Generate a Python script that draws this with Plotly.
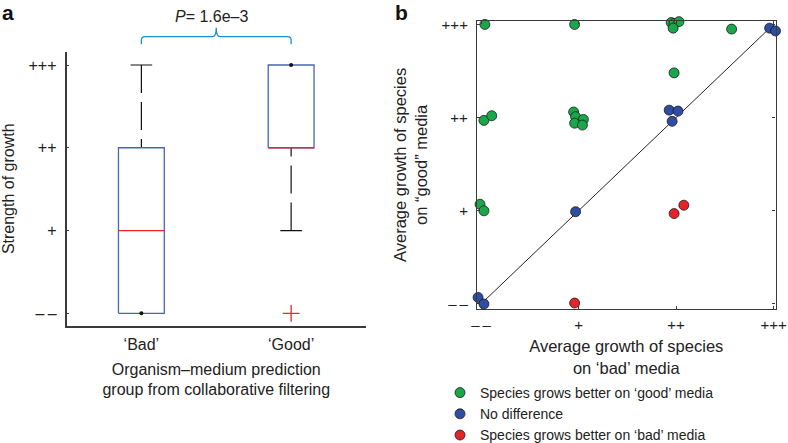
import plotly.graph_objects as go

# ---------------- data ----------------
# Panel a: box statistics (0 = "−−", 1 = "+", 2 = "++", 3 = "+++")
groups = ["‘Bad’", "‘Good’"]
group_pos = [1, 2]
q1 = [0, 2]
median = [1, 2]
q3 = [2, 3]
whisker_lo = [0, 1]
whisker_hi = [3, 3]
outlier_group = [2]
outlier_val = [0]
p_text = "<i>P</i>= 1.6e–3"

growth_ticks = [0, 1, 2, 3]
growth_labels = ["–\u2009–", "+", "++", "+++"]

# Panel b: average growth of species on 'bad' (x) and 'good' (y) media
good_x = [0.04, 0.96, 1.95, 1.98, 2.03, 1.97, 2.54, 2.57, 1.98, 0.03, 0.11,
          0.95, 0.97, 1.05, 0.96, 1.04, -0.01, 0.03]
good_y = [3.00, 3.00, 3.02, 3.01, 3.03, 2.96, 3.05, 2.95, 2.48, 1.97, 2.02,
          2.06, 2.01, 1.98, 1.94, 1.92, 1.07, 1.00]
nodiff_x = [2.96, 3.02, 1.93, 2.02, 1.96, 0.97, -0.03, 0.03, -0.02]
nodiff_y = [2.96, 2.93, 2.08, 2.07, 1.96, 0.99, 0.07, 0.00, -0.06]
bad_x = [0.96, 1.98, 2.08]
bad_y = [0.01, 0.97, 1.06]
identity = [0, 3]

# ---------------- styles ----------------
FONT = "Liberation Sans, Arial, sans-serif"
TXT = "#222222"
AX = "#3a3a3a"
BOX_BLUE = "#4a64b4"
MED_RED = "#e8262c"
BRACKET = "#1f8fd2"
GREEN = "#1aa64b"
BLUE = "#2f4ea2"
RED = "#e3242b"

box_hw = 0.153
cap_hw = 0.072

fig = go.Figure()

# ---------------- panel a ----------------
for i, gx in enumerate(group_pos):
    for end, edge in ((whisker_hi[i], q3[i]), (whisker_lo[i], q1[i])):
        if end != edge:
            fig.add_trace(go.Scatter(x=[gx, gx], y=[end, edge], mode="lines",
                                     line=dict(color="#111", width=1.2, dash="28px,9px"),
                                     xaxis="x", yaxis="y", showlegend=False, hoverinfo="skip"))
            fig.add_trace(go.Scatter(x=[gx - cap_hw, gx + cap_hw], y=[end, end], mode="lines",
                                     line=dict(color="#111", width=1.2),
                                     xaxis="x", yaxis="y", showlegend=False, hoverinfo="skip"))
    fig.add_trace(go.Scatter(
        x=[gx - box_hw, gx + box_hw, gx + box_hw, gx - box_hw, gx - box_hw],
        y=[q1[i], q1[i], q3[i], q3[i], q1[i]], mode="lines",
        line=dict(color=BOX_BLUE, width=1.3),
        xaxis="x", yaxis="y", showlegend=False, hoverinfo="skip"))
    fig.add_trace(go.Scatter(x=[gx - box_hw, gx + box_hw], y=[median[i], median[i]],
                             mode="lines", line=dict(color=MED_RED, width=1.3),
                             xaxis="x", yaxis="y", showlegend=False, hoverinfo="skip"))
    dots = [e for e, ed in ((whisker_hi[i], q3[i]), (whisker_lo[i], q1[i])) if e == ed]
    if dots:
        fig.add_trace(go.Scatter(x=[gx] * len(dots), y=dots, mode="markers",
                                 marker=dict(color="#111", size=4),
                                 xaxis="x", yaxis="y", showlegend=False, hoverinfo="skip",
                                 cliponaxis=False))

fig.add_trace(go.Scatter(x=outlier_group, y=outlier_val, mode="markers",
                         marker=dict(symbol="cross-thin", size=12,
                                     line=dict(color=MED_RED, width=1.3)),
                         xaxis="x", yaxis="y", showlegend=False, hoverinfo="skip",
                         cliponaxis=False))

# significance bracket
xa, xb = group_pos
xm = (xa + xb) / 2
yE, yH, yT = 0.900, 0.9172, 0.9375
r, ry = 0.025, 0.0075
path = (f"M {xa},{yE} L {xa},{yH - ry} Q {xa},{yH} {xa + r},{yH} "
        f"L {xm - r},{yH} Q {xm},{yH} {xm},{yT} "
        f"Q {xm},{yH} {xm + r},{yH} L {xb - r},{yH} Q {xb},{yH} {xb},{yH - ry} L {xb},{yE}")
fig.add_shape(type="path", path=path, xref="x", yref="paper",
              line=dict(color=BRACKET, width=1.3))
fig.add_annotation(x=xm, y=1 - 16.5 / 443, xref="x", yref="paper", text=p_text,
                   showarrow=False, font=dict(size=16, color=TXT, family=FONT),
                   xanchor="center", yanchor="middle", xshift=-4)

# ---------------- panel b ----------------
fig.add_trace(go.Scatter(x=identity, y=identity, mode="lines",
                         line=dict(color="#222", width=1),
                         xaxis="x2", yaxis="y2", showlegend=False, hoverinfo="skip"))
mline = dict(color="rgba(20,20,20,0.75)", width=1)
fig.add_trace(go.Scatter(x=good_x, y=good_y, mode="markers",
                         name="Species grows better on ‘good’ media",
                         marker=dict(color=GREEN, size=10, line=mline),
                         xaxis="x2", yaxis="y2", cliponaxis=False))
fig.add_trace(go.Scatter(x=nodiff_x, y=nodiff_y, mode="markers",
                         name="No difference",
                         marker=dict(color=BLUE, size=10, line=mline),
                         xaxis="x2", yaxis="y2", cliponaxis=False))
fig.add_trace(go.Scatter(x=bad_x, y=bad_y, mode="markers",
                         name="Species grows better on ‘bad’ media",
                         marker=dict(color=RED, size=10, line=mline),
                         xaxis="x2", yaxis="y2", cliponaxis=False))

for letter, px in (("a", 8), ("b", 401)):
    fig.add_annotation(x=px / 788, y=1 - 12 / 443, xref="paper", yref="paper",
                       text=f"<b>{letter}</b>", showarrow=False,
                       font=dict(size=21, color="#111", family=FONT),
                       xanchor="center", yanchor="middle")

tickfont = dict(size=16, color=TXT, family=FONT)
titlefont = dict(size=16, color=TXT, family=FONT)

fig.update_layout(
    template="none",
    width=788, height=443,
    margin=dict(l=0, r=0, t=0, b=0, pad=0, autoexpand=False),
    paper_bgcolor="white", plot_bgcolor="white",
    font=dict(family=FONT, color=TXT),
    xaxis=dict(domain=[66.5 / 788, 366 / 788], range=[0.5, 2.5], automargin=False,
               tickvals=group_pos, ticktext=groups, ticks="", showgrid=False,
               zeroline=False, showline=True, linecolor=AX, linewidth=1.5,
               tickfont=tickfont, ticklabelstandoff=4,
               title=dict(text="Organism–medium prediction<br>group from collaborative filtering",
                          font=titlefont, standoff=11)),
    yaxis=dict(domain=[1 - 325.5 / 443, 1 - 52 / 443], range=[-0.147, 3.157],
               automargin=False,
               tickvals=growth_ticks, ticktext=growth_labels, ticks="inside",
               ticklen=3, tickcolor=AX, showgrid=False, zeroline=False,
               showline=True, linecolor=AX, linewidth=1.5, tickfont=tickfont,
               ticklabelstandoff=5,
               title=dict(text="Strength of growth", font=titlefont, standoff=10)),
    xaxis2=dict(domain=[477 / 788, 775.5 / 788], range=[-0.041, 3.02], anchor="y2",
                automargin=False,
                tickvals=growth_ticks, ticktext=growth_labels, ticks="inside",
                ticklen=3, tickcolor=AX, showgrid=False, zeroline=False,
                showline=True, mirror="ticks", linecolor=AX, linewidth=1.2,
                tickfont=dict(size=15, color=TXT, family=FONT), ticklabelstandoff=2,
                title=dict(text="Average growth of species<br>on ‘bad’ media",
                           font=dict(size=16.5, color=TXT, family=FONT), standoff=8)),
    yaxis2=dict(domain=[1 - 309 / 443, 1 - 20.7 / 443], range=[-0.054, 3.04], anchor="x2",
                automargin=False,
                tickvals=growth_ticks, ticktext=growth_labels, ticks="inside",
                ticklen=3, tickcolor=AX, showgrid=False, zeroline=False,
                showline=True, mirror="ticks", linecolor=AX, linewidth=1.2,
                tickfont=dict(size=15, color=TXT, family=FONT), ticklabelstandoff=5,
                title=dict(text="Average growth of species<br>on “good” media",
                           font=dict(size=16.5, color=TXT, family=FONT), standoff=9)),
    legend=dict(x=440 / 788, y=1 - 377 / 443, xanchor="left", yanchor="top",
                bgcolor="rgba(0,0,0,0)", font=dict(size=14, color=TXT, family=FONT),
                itemwidth=30, tracegroupgap=0, borderwidth=0),
    showlegend=True,
)

fig.write_html("out.html", config={"displayModeBar": False},
               post_script="document.body.style.margin='0';document.body.style.overflow='hidden';")
